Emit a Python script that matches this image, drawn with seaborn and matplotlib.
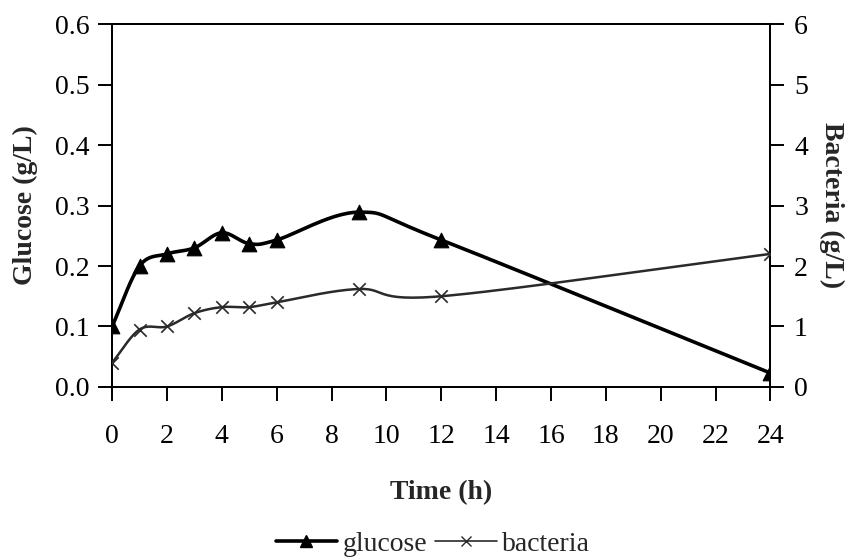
import numpy as np
import pandas as pd
import matplotlib
matplotlib.use("Agg")
import matplotlib.pyplot as plt
import seaborn as sns
from matplotlib.lines import Line2D

# data
time_h = [0, 1, 2, 3, 4, 5, 6, 9, 12, 24]
glucose = [0.10, 0.20, 0.22, 0.23, 0.255, 0.237, 0.243, 0.289, 0.243, 0.023]
bacteria = [0.4, 0.95, 1.0, 1.22, 1.32, 1.32, 1.4, 1.62, 1.5, 2.2]
x_ticks = list(range(0, 25, 2))


def smooth(x, y, n=30):
    # Catmull-Rom style smoothing, similar to a spreadsheet "smoothed line"
    x = np.asarray(x, float)
    y = np.asarray(y, float)
    px = np.concatenate([[2 * x[0] - x[1]], x, [2 * x[-1] - x[-2]]])
    py = np.concatenate([[2 * y[0] - y[1]], y, [2 * y[-1] - y[-2]]])
    xs, ys = [], []
    for i in range(1, len(px) - 2):
        t = np.linspace(0, 1, n)
        for p, out in ((px, xs), (py, ys)):
            p0, p1, p2, p3 = p[i - 1], p[i], p[i + 1], p[i + 2]
            c1 = p1 + (p2 - p0) / 6
            c2 = p2 - (p3 - p1) / 6
            out.extend((1 - t) ** 3 * p1 + 3 * (1 - t) ** 2 * t * c1
                       + 3 * (1 - t) * t ** 2 * c2 + t ** 3 * p2)
    return np.array(xs), np.array(ys)


sns.set_style("ticks")
plt.rcParams['font.family'] = ['Liberation Serif', 'DejaVu Serif']
FS = 20

fig = plt.figure(figsize=(8.49, 5.6), dpi=100)
ax = fig.add_axes([0.132, 0.309, 0.7755, 0.648])
ax2 = ax.twinx()

df = pd.DataFrame({'time': time_h, 'glucose': glucose, 'bacteria': bacteria})

gx, gy = smooth(time_h, glucose)
ax.plot(gx, gy, color='black', lw=2.6, zorder=3)
sns.scatterplot(data=df, x='time', y='glucose', ax=ax, marker='^', s=110,
                color='black', edgecolor='black', zorder=4, legend=False)

bx, by = smooth(time_h, bacteria)
ax2.plot(bx, by, color='#2a2a2a', lw=1.8, zorder=3)
sns.scatterplot(data=df, x='time', y='bacteria', ax=ax2, marker='x', s=80,
                color='#2a2a2a', linewidth=1.2, zorder=4, legend=False)

ax.set_xlim(0, 24)
ax.set_ylim(0, 0.6)
ax2.set_ylim(0, 6)
ax.set_xticks(x_ticks)
ax.set_yticks(np.arange(0, 0.61, 0.1))
ax.yaxis.set_major_formatter(matplotlib.ticker.FormatStrFormatter('%.1f'))
ax2.set_yticks(range(0, 7))

for a in (ax, ax2):
    for s in a.spines.values():
        s.set_visible(True)
        s.set_color('black')
        s.set_linewidth(1.4)
    a.tick_params(direction='out', length=10, width=1.4, colors='black',
                  labelsize=FS)
ax.tick_params(axis='y', pad=6)
ax.tick_params(axis='x', pad=17)
ax2.tick_params(axis='y', pad=7)

ax.set_xlabel('Time (h)', fontweight='bold', fontsize=FS, labelpad=22)
ax.set_ylabel('Glucose (g/L)', fontweight='bold', fontsize=FS,
              ha='center', va='center')
ax.yaxis.set_label_coords(-0.131, 0.5)
ax2.set_ylabel('Bacteria (g/L)', fontweight='bold', fontsize=FS,
               rotation=-90, ha='center', va='center')
ax2.yaxis.set_label_coords(1.093, 0.5)

handles = [
    Line2D([], [], color='black', lw=2.6, marker='^', markersize=8),
    Line2D([], [], color='#2a2a2a', lw=1.2, marker='x', markersize=7),
]
fig.legend(handles, ['glucose', 'bacteria'], loc='center',
           bbox_to_anchor=(0.51, 0.028), ncol=2, frameon=False,
           fontsize=FS, handlelength=2.2, handletextpad=0.2,
           columnspacing=0.3)

fig.savefig('out.png', dpi=100)
